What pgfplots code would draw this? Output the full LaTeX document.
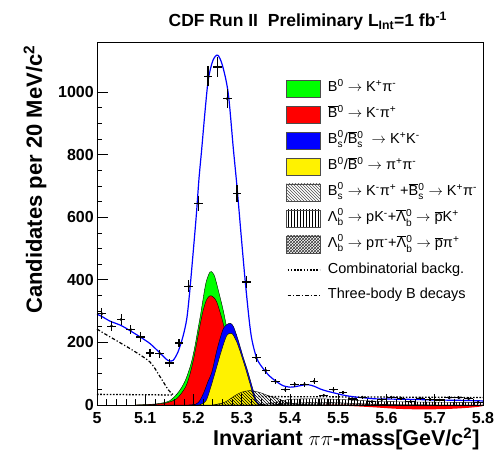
\documentclass[border=0pt]{standalone}
\usepackage{pgfplots}
\pgfplotsset{compat=1.18}
\usepackage{pgfplotstable}
\usepackage{amsmath}
\usepackage{fontspec}
\setmainfont{Liberation Sans}
\newfontfamily\tickfont{Liberation Sans}[UprightFont={* Bold}]
\usetikzlibrary{patterns,calc}

\newcommand{\ra}{$\rightarrow$}
\newcommand{\Bsz}{$\text{B}_{\text{s}}^{\text{0}}$}
\newcommand{\Bbz}{$\overline{\text{B}}{}^{\text{0}}$}
\newcommand{\Bsbz}{$\overline{\text{B}}{}_{\text{s}}^{\text{0}}$}
\newcommand{\Lbz}{$\text{Λ}_{\text{b}}^{\text{0}}$}
\newcommand{\Lbbz}{$\overline{\text{Λ}}{}_{\text{b}}^{\text{0}}$}
\newcommand{\su}[1]{\textsuperscript{#1}}

\pgfplotstableread{
x y ex ey
5.01 292 0.009 17.1
5.03 252 0.009 15.9
5.05 273 0.009 16.5
5.07 241 0.009 15.5
5.09 217 0.009 14.7
5.11 166 0.009 12.9
5.13 164 0.009 12.8
5.15 134 0.009 11.6
5.17 198 0.009 14.1
5.19 379 0.009 19.5
5.21 644 0.009 25.4
5.23 1051 0.009 32.4
5.25 1080 0.009 32.9
5.27 979 0.009 31.3
5.29 676 0.009 26.0
5.31 393 0.009 19.8
5.33 151 0.009 12.3
5.35 110 0.009 10.5
5.37 75 0.009 8.7
5.39 49 0.009 7.0
5.41 66 0.009 8.1
5.43 66 0.009 8.1
5.45 76 0.009 8.7
5.47 31 0.009 5.6
5.49 49 0.009 7.0
5.51 40 0.009 6.3
5.53 19 0.009 4.4
5.55 25 0.009 5.0
5.57 11 0.009 3.3
5.59 17 0.009 4.1
5.61 25 0.009 5.0
5.63 20 0.009 4.5
5.65 11 0.009 3.3
5.67 22 0.009 4.7
5.69 18 0.009 4.2
5.71 16 0.009 4.0
5.73 23 0.009 4.8
5.75 23 0.009 4.8
5.77 20 0.009 4.5
5.79 9 0.009 3.0
}\datatable

\begin{document}
\begin{tikzpicture}
\begin{axis}[
  scale only axis, width=386pt, height=363pt,
  xmin=5, xmax=5.8, ymin=0, ymax=1160,
  clip=false, axis on top,
  xtick={5,5.1,5.2,5.3,5.4,5.5,5.6,5.7,5.8},
  xticklabels={5,5.1,5.2,5.3,5.4,5.5,5.6,5.7,5.8},
  ytick={0,200,400,600,800,1000},
  yticklabels={0,200,400,600,800,1000},
  minor x tick num=4, minor y tick num=3,
  tick align=inside, xtick pos=bottom, ytick pos=left,
  major tick length=11pt, minor tick length=5.5pt,
  every tick/.style={black, line width=0.7pt},
  axis line style={black, line width=0.8pt},
  every tick label/.append style={font=\tickfont\fontsize{16}{16}\selectfont},
  xticklabel style={anchor=base, yshift=-18.5pt},
  yticklabel style={anchor=east, inner sep=0pt, xshift=-3pt},
  legend style={at={(rel axis cs:0.49,0.897)}, anchor=north west, draw=none, fill=none,
    inner sep=0pt, row sep=8.4pt, column sep=7pt,
    font=\fontsize{14.5}{14.5}\selectfont,
    nodes={inner sep=0pt, text height=11pt, text depth=4pt}},
  legend cell align=left,
]
% combinatorial background (dotted) and three-body (dash-dot)
\addplot[forget plot, black, line width=1.3pt, dash pattern=on 1.6pt off 1.6pt] coordinates {(5.0,34) (5.155,32)};
\addplot[forget plot, black, line width=1.3pt, dash pattern=on 1.6pt off 1.6pt] coordinates {(5.335,27) (5.8,24)};
\addplot[forget plot, black, line width=1.2pt, dash pattern=on 3.5pt off 2pt on 1.2pt off 2pt, smooth] coordinates {
(5.0,243) (5.01,233) (5.04,206) (5.075,174) (5.11,137) (5.13,92) (5.148,48) (5.158,33)};
% B0 -> K+ pi- (green, on top of red)
\addplot[forget plot, fill=green, draw=black, line width=0.4pt, smooth, tension=0.5] coordinates {
(5.08,0) (5.11,2) (5.13,5) (5.15,13) (5.165,34) (5.175,55) (5.184,82) (5.19,108) (5.196,138) (5.203,188) (5.209,240) (5.215,292) (5.22,340) (5.226,392) (5.234,425) (5.24,422) (5.245,405) (5.255,345) (5.262,300) (5.267,262) (5.28,165) (5.29,105) (5.30,60) (5.31,30) (5.32,12) (5.33,4) (5.34,0)} \closedcycle;
% Bbar0 -> K- pi+ (red)
\addplot[forget plot, fill=red, draw=black, line width=0.4pt, smooth, tension=0.5] coordinates {
(5.08,0) (5.11,1) (5.124,3) (5.145,7) (5.165,20) (5.179,46) (5.186,66) (5.193,100) (5.2,145) (5.207,200) (5.214,258) (5.22,302) (5.227,336) (5.234,349) (5.241,345) (5.248,330) (5.258,281) (5.265,238) (5.275,170) (5.285,110) (5.295,62) (5.305,30) (5.315,12) (5.325,3) (5.335,0)} \closedcycle;
% Bs -> K+ K- (blue)
\addplot[forget plot, fill=blue, draw=black, line width=0.4pt, smooth, tension=0.5] coordinates {
(5.19,0) (5.205,3) (5.213,14) (5.222,42) (5.23,75) (5.238,105) (5.248,172) (5.255,212) (5.262,245) (5.27,258) (5.277,261) (5.283,250) (5.29,220) (5.296,190) (5.303,153) (5.31,120) (5.316,89) (5.324,46) (5.331,12) (5.34,0)} \closedcycle;
% B0 -> pi+ pi- (yellow)
\addplot[forget plot, fill=yellow, draw=black, line width=0.4pt, smooth, tension=0.5] coordinates {
(5.21,0) (5.218,4) (5.227,16) (5.238,68) (5.248,121) (5.258,174) (5.269,222) (5.279,229) (5.288,207) (5.296,174) (5.307,121) (5.317,68) (5.327,16) (5.335,2) (5.345,0)} \closedcycle;
% Bs -> K- pi+ (hatched)
\addplot[forget plot, pattern=north west lines, pattern color=black, draw=black, line width=0.4pt, smooth, tension=0.5] coordinates {
(5.24,0) (5.265,9) (5.286,30) (5.30,41) (5.317,46) (5.335,41) (5.355,30) (5.376,20) (5.393,9) (5.42,2) (5.45,0)} \closedcycle;
% Lambda_b -> p K (vertical lines)
\addplot[forget plot, pattern=vertical lines, pattern color=black, draw=black, line width=0.4pt, smooth, tension=0.5] coordinates {
(5.33,0) (5.36,5) (5.38,12) (5.40,18) (5.45,20) (5.50,18) (5.55,14) (5.60,11) (5.70,9) (5.80,8)} \closedcycle;
% Lambda_b -> p pi (crosshatch)
\addplot[forget plot, pattern=crosshatch, pattern color=black, draw=black, line width=0.4pt, smooth, tension=0.5] coordinates {
(5.36,0) (5.40,5) (5.45,8) (5.50,7) (5.55,4) (5.62,1) (5.7,0)} \closedcycle;
% red sliver below the axis
\addplot[forget plot, fill=red, draw=none, smooth, tension=0.5] coordinates {
(5.47,0) (5.52,-3) (5.57,-7) (5.62,-12) (5.67,-14) (5.72,-13) (5.76,-10) (5.79,-6) (5.8,-3)} \closedcycle;
% total fit
\addplot[forget plot, blue, line width=1.2pt, smooth, tension=0.5] coordinates {
(5.000,290) (5.010,283) (5.027,268) (5.050,254) (5.070,236) (5.090,217) (5.110,196) (5.130,167) (5.143,147) (5.150,141) (5.158,143) (5.168,170) (5.178,218) (5.186,275) (5.192,360) (5.200,500) (5.206,610) (5.2114,724) (5.2168,814) (5.224,940) (5.2307,1040) (5.240,1100) (5.250,1118) (5.260,1085) (5.272,996) (5.2825,820) (5.290,700) (5.300,520) (5.3088,370) (5.3192,225) (5.331,150) (5.345,115) (5.358,92) (5.371,76) (5.385,62) (5.400,57) (5.412,59) (5.425,63) (5.437,65) (5.450,60) (5.463,51) (5.475,45) (5.493,38) (5.5125,31) (5.533,26) (5.553,23) (5.573,20) (5.600,19) (5.650,18) (5.700,16) (5.750,15) (5.800,13)};
% data
\addplot[forget plot, black, only marks, mark=*, mark size=1.2pt,
  error bars/.cd, x dir=both, x explicit, y dir=both, y explicit,
  error bar style={line width=1.2pt}, error mark=none]
  table[x=x, y=y, x error=ex, y error=ey] {\datatable};

% legend
\pgfplotsset{
  fillleg/.style={legend image code/.code={\draw[##1] (0pt,-8.5pt) rectangle (34pt,8.5pt);}},
  lineleg/.style={legend image code/.code={\path[draw=none,fill=none] (0pt,-8.5pt) -- (34pt,8.5pt); \draw[##1] (1pt,0pt) -- (33pt,0pt);}},
}
\addlegendimage{fillleg, fill=green, draw=black!70, line width=0.6pt}
\addlegendentry{B\su{0} \ra{} K\su{+}π\su{-}}
\addlegendimage{fillleg, fill=red, draw=black!70, line width=0.6pt}
\addlegendentry{\Bbz{} \ra{} K\su{-}π\su{+}}
\addlegendimage{fillleg, fill=blue, draw=black!70, line width=0.6pt}
\addlegendentry{\Bsz/\Bsbz{}\ \ \ra{} K\su{+}K\su{-}}
\addlegendimage{fillleg, fill=yellow, draw=black!70, line width=0.6pt}
\addlegendentry{B\su{0}/\Bbz{} \ra{} π\su{+}π\su{-}}
\addlegendimage{fillleg, pattern=north west lines, pattern color=black!70, draw=black!70, line width=0.6pt}
\addlegendentry{\Bsz{} \ra{} K\su{-}π\su{+} +\Bsbz{} \ra{} K\su{+}π\su{-}}
\addlegendimage{fillleg, pattern=vertical lines, pattern color=black, draw=black!70, line width=0.6pt}
\addlegendentry{\Lbz{} \ra{} pK\su{-}+\Lbbz{} \ra{} $\overline{\text{p}}$K\su{+}}
\addlegendimage{fillleg, pattern=crosshatch, pattern color=black!80, draw=black!70, line width=0.6pt}
\addlegendentry{\Lbz{} \ra{} pπ\su{-}+\Lbbz{} \ra{} $\overline{\text{p}}$π\su{+}}
\addlegendimage{lineleg, black, line width=1.3pt, dash pattern=on 1.6pt off 1.6pt}
\addlegendentry{Combinatorial backg.}
\addlegendimage{lineleg, black, line width=1.2pt, dash pattern=on 3.5pt off 2pt on 1.2pt off 2pt}
\addlegendentry{Three-body B decays}
\end{axis}
\node[anchor=base, font=\bfseries\fontsize{17.5}{17.5}\selectfont] at ($(current axis.north west)+(210.8pt,15pt)$) {CDF Run II\ \ Preliminary L\textsubscript{Int}=1 fb\textsuperscript{-1}};
\node[rotate=90, anchor=base east, font=\bfseries\fontsize{22}{22}\selectfont] at ($(current axis.north west)+(-55pt,0pt)$) {Candidates per 20 MeV/c\textsuperscript{2}};
\node[anchor=base east, font=\bfseries\fontsize{21.5}{21.5}\selectfont] at ($(current axis.south east)+(0pt,-41pt)$) {Invariant $\pi\pi$-mass[GeV/c\textsuperscript{2}]};
\pgfresetboundingbox
\path[use as bounding box] ($(current axis.south west)+(-97pt,-47pt)$) rectangle ($(current axis.north east)+(12pt,42pt)$);
\end{tikzpicture}
\end{document}
